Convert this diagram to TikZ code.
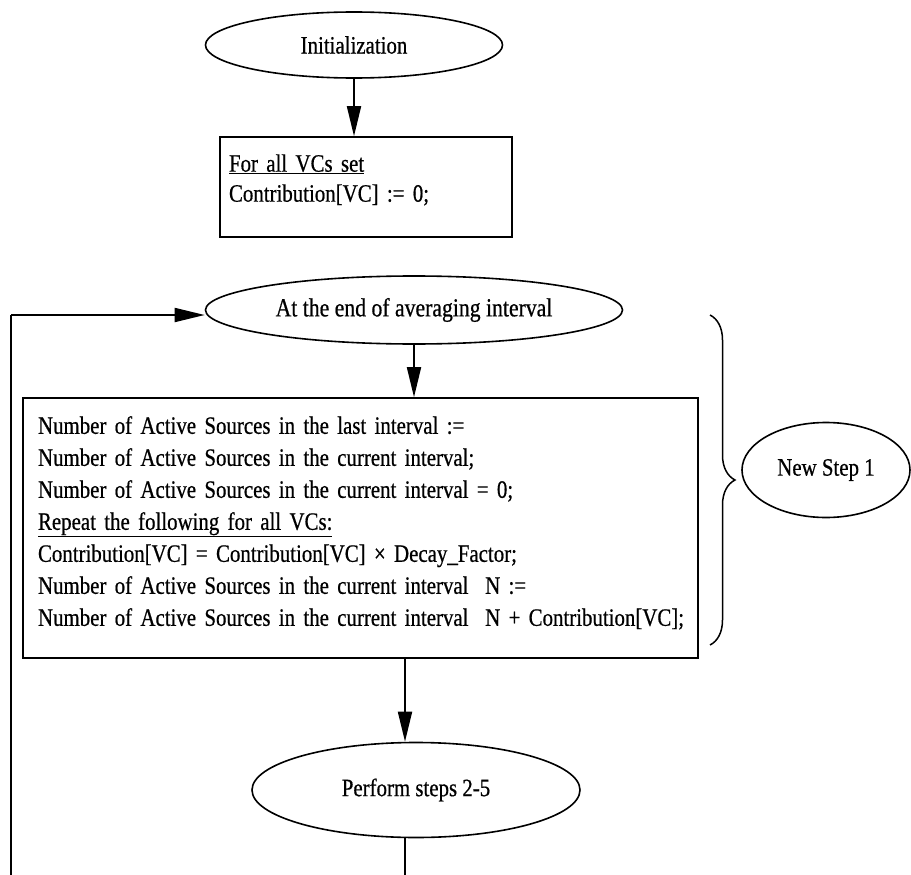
\documentclass[tikz,border=0pt]{standalone}
\usepackage{fontspec}
\setmainfont[FakeStretch=0.835,FakeBold=0.6]{Liberation Serif}
\usetikzlibrary{shapes.geometric,arrows.meta,decorations.pathreplacing}

\newcommand{\lowpad}[1]{\rule[-#1]{0pt}{1pt}}

\begin{document}
\begin{tikzpicture}[x=1pt,y=-1pt,
  every node/.style={font=\fontsize{25}{32}\selectfont},
  flowline/.style={line width=1.8pt},
  flowarrow/.style={flowline,-{Triangle[length=30pt,width=14pt]}},
  oval/.style={draw,ellipse,line width=1.6pt,inner sep=0pt},
  stepbox/.style={draw,rectangle,line width=1.6pt,align=left,inner xsep=9pt,inner ysep=0pt}
]
\useasboundingbox (0,0) rectangle (911,875);

% start of the procedure
\node[oval,minimum width=297pt,minimum height=66pt] (init) at (354,45) {Initialization};

\node[stepbox,text width=274pt,minimum height=100pt,font=\fontsize{25}{30}\selectfont] (reset) at (366,187)
  {\underline{For all VCs set}\\Contribution[VC] := 0;\lowpad{18pt}};

% periodic update
\node[oval,minimum width=417pt,minimum height=68pt,font=\fontsize{26}{32}\selectfont] (avg) at (414,310) {At the end of averaging interval};

\node[stepbox,text width=645pt,inner xsep=15pt,minimum height=260pt] (update) at (360.5,528)
  {Number of Active Sources in the last interval :=\\
   Number of Active Sources in the current interval;\\
   Number of Active Sources in the current interval = 0;\\
   \underline{Repeat the following for all VCs:}\\
   Contribution[VC] = Contribution[VC] × Decay\_Factor;\\
   Number of Active Sources in the current interval~~N :=\\
   \mbox{Number of Active Sources in the current interval~~N + Contribution[VC];}\lowpad{14pt}};

\node[oval,minimum width=328pt,minimum height=95pt] (perform) at (416,790) {Perform steps 2-5};

\node[oval,minimum width=168pt,minimum height=95pt] (newstep) at (826,470) {New Step 1};

% loop back and continuation
\coordinate (intop) at ([xshift=-11pt]perform.north);
\coordinate (inbottom) at ([xshift=-11pt]perform.south);
\coordinate (down) at (inbottom |- 0,875);
\coordinate (loopbottom) at (11,875);
\coordinate (looptop) at (11,315);

% connectors
\draw[flowarrow] (init.south) -- (init.south |- reset.north);
\draw[flowarrow] (avg.south) -- (avg.south |- update.north);
\draw[flowarrow] (intop |- update.south) -- (intop);
\draw[flowline] (inbottom) -- (down);
\draw[flowline] (loopbottom) -- (looptop);
\draw[flowarrow] (looptop) -- (avg.west |- looptop);

% brace grouping the update step
\coordinate (bracetop) at (710,315);
\coordinate (bracebot) at (710,645);
\draw[line width=1.5pt,decorate,decoration={brace,amplitude=25pt}] (bracetop) -- (bracebot);
\end{tikzpicture}
\end{document}
